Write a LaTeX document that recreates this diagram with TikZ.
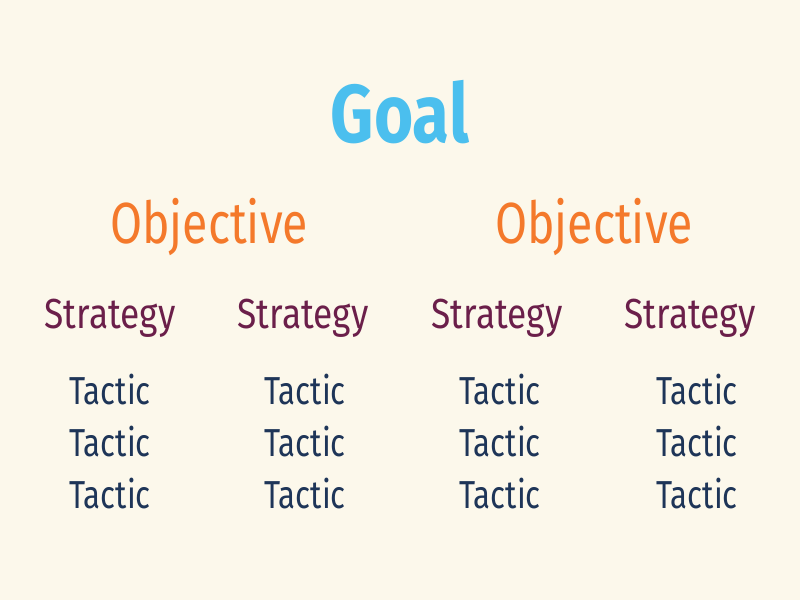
\documentclass[tikz,border=0pt]{standalone}
\usepackage{fontspec}
\setmainfont{Fira Sans}
\newfontfamily\narrowfont[FakeStretch=0.8]{Fira Sans}
\newfontfamily\stratfont[FakeStretch=0.84]{Fira Sans}
\newfontfamily\narrowbold[FakeStretch=0.82]{Fira Sans Bold}
\definecolor{bgcol}{HTML}{FCF8EB}
\definecolor{goalcol}{HTML}{4BBFEE}
\definecolor{objcol}{HTML}{F4792B}
\definecolor{stratcol}{HTML}{6B1F4A}
\definecolor{taccol}{HTML}{1E3558}
\tikzset{
  goaltext/.style={anchor=base, inner sep=0pt, text=goalcol, font=\narrowbold\fontsize{82}{82}\selectfont},
  objtext/.style={anchor=base, inner sep=0pt, text=objcol, font=\narrowfont\fontsize{58}{58}\selectfont},
  strattext/.style={anchor=base, inner sep=0pt, text=stratcol, font=\stratfont\fontsize{42}{42}\selectfont},
  tactext/.style={anchor=base, inner sep=0pt, text=taccol, font=\narrowfont\fontsize{39}{39}\selectfont},
}
\begin{document}
\begin{tikzpicture}[x=1pt,y=-1pt]
\fill[bgcol] (0,0) rectangle (800,600);
\useasboundingbox (0,0) rectangle (800,600);
\node[goaltext] (goal) at (400,142) {Goal};
\node[objtext] (obj1) at (209,243) {Objective};
\node[objtext] (obj2) at (594,243) {Objective};
\node[strattext] (s1) at (110,328) {Strategy};
\node[strattext] (s2) at (303,328) {Strategy};
\node[strattext] (s3) at (497,328) {Strategy};
\node[strattext] (s4) at (690,328) {Strategy};
\foreach \x [count=\i] in {110,305,500,697}{
  \node[tactext] (t\i a) at (\x,404) {Tactic};
  \node[tactext] (t\i b) at (\x,456) {Tactic};
  \node[tactext] (t\i c) at (\x,508) {Tactic};
}
\end{tikzpicture}
\end{document}
